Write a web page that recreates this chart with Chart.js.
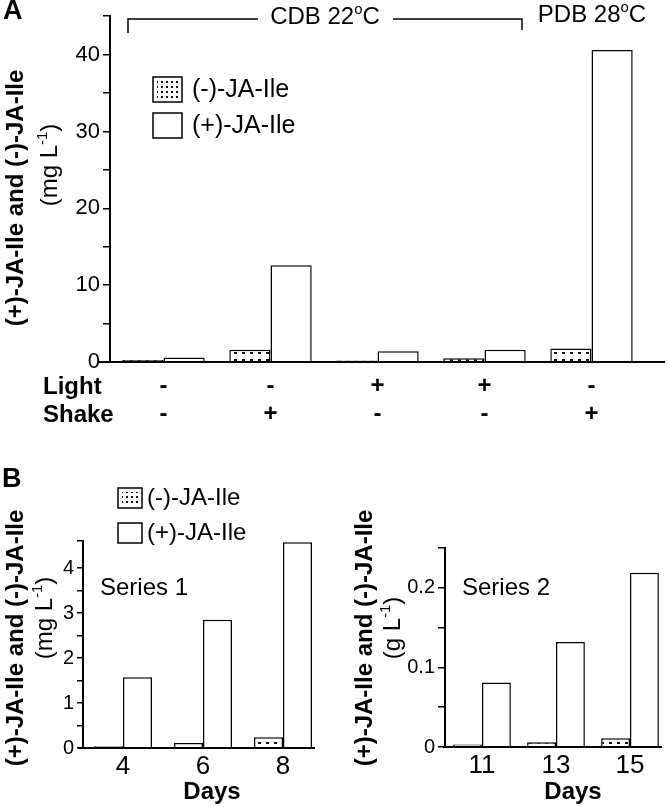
<!DOCTYPE html>
<html>
<head>
<meta charset="utf-8">
<script src="https://cdn.jsdelivr.net/npm/chart.js@4.4.0/dist/chart.umd.min.js"></script>
<style>
  body { margin: 0; background: #fff; width: 667px; height: 807px; position: relative; overflow: hidden; }
  canvas { position: absolute; }
</style>
</head>
<body>
<canvas id="chartA" width="667" height="440" style="left:0;top:0"></canvas>
<canvas id="chartB1" width="335" height="347" style="left:0;top:460px"></canvas>
<canvas id="chartB2" width="332" height="347" style="left:335px;top:460px"></canvas>
<script>
const FONT = '"Liberation Sans", Arial, Helvetica, sans-serif';

// Panel A: culture conditions
const lightRow = ["-", "-", "+", "+", "-"];
const shakeRow = ["-", "+", "-", "-", "+"];
const minusA = [0.25, 1.6, 0.2, 0.5, 1.75];
const plusA = [0.6, 12.6, 1.4, 1.6, 40.6];

// Panel B: time course
const daysS1 = ["4", "6", "8"];
const minusS1 = [0.04, 0.11, 0.24];
const plusS1 = [1.57, 2.85, 4.57];

const daysS2 = ["11", "13", "15"];
const minusS2 = [0.003, 0.006, 0.011];
const plusS2 = [0.081, 0.132, 0.219];

// dotted fill
function dots(tw, th, dw, dh, ox, oy) {
  const c = document.createElement("canvas");
  c.width = tw; c.height = th;
  const g = c.getContext("2d");
  g.fillStyle = "#fff"; g.fillRect(0, 0, tw, th);
  g.fillStyle = "#111"; g.fillRect(ox, oy, dw, dh);
  return g.createPattern(c, "repeat");
}
const barDots = dots(8, 7, 3, 2, 2, 2);
const keyDots = dots(5, 5, 2, 2, 1, 1);

// text helpers
function rich(ctx, parts, x, y, size, align, bold) {
  const w = parts.map(p => {
    ctx.font = (bold ? "bold " : "") + (p[1] ? size * 0.62 : size) + "px " + FONT;
    return ctx.measureText(p[0]).width;
  });
  const total = w.reduce((a, b) => a + b, 0);
  let cx = align === "center" ? x - total / 2 : align === "right" ? x - total : x;
  ctx.fillStyle = "#000";
  ctx.textAlign = "left";
  ctx.textBaseline = "middle";
  parts.forEach((p, i) => {
    ctx.font = (bold ? "bold " : "") + (p[1] ? size * 0.62 : size) + "px " + FONT;
    ctx.fillText(p[0], cx, p[1] ? y - size * 0.28 : y);
    cx += w[i];
  });
}
function txt(ctx, s, x, y, size, align, bold) {
  rich(ctx, [[s]], x, y, size, align || "left", bold);
}
function rotated(ctx, x, y, fn) {
  ctx.save();
  ctx.translate(x, y);
  ctx.rotate(-Math.PI / 2);
  fn();
  ctx.restore();
}
function line(ctx, x1, y1, x2, y2) {
  ctx.beginPath(); ctx.moveTo(x1, y1); ctx.lineTo(x2, y2); ctx.stroke();
}
function key(ctx, x, y, w, h, dotted) {
  ctx.fillStyle = "#fff";
  ctx.fillRect(x, y, w, h);
  if (dotted) {
    ctx.fillStyle = keyDots;
    ctx.fillRect(x + 4, y + 4, w - 8, h - 8);
  }
  ctx.strokeStyle = "#000";
  ctx.lineWidth = 1.5;
  ctx.strokeRect(x, y, w, h);
}

// chart builder
function barChart(id, labels, minus, plus, o) {
  return new Chart(document.getElementById(id), {
    type: "bar",
    data: {
      labels: labels,
      datasets: [
        { label: "(-)-JA-Ile", data: minus, backgroundColor: barDots, borderColor: "#000",
          borderWidth: 1.5, categoryPercentage: o.cat, barPercentage: 1 },
        { label: "(+)-JA-Ile", data: plus, backgroundColor: "#fff", borderColor: "#000",
          borderWidth: 1.5, categoryPercentage: o.cat, barPercentage: 1 }
      ]
    },
    options: {
      responsive: false,
      animation: false,
      devicePixelRatio: 1,
      layout: { padding: { left: 0, right: o.padRight, top: o.top, bottom: 0 } },
      plugins: { legend: { display: false }, tooltip: { enabled: false } },
      scales: {
        x: {
          grid: { display: false, drawTicks: false },
          border: { display: false },
          ticks: { color: "#000", font: o.xFont, padding: o.xPad, maxRotation: 0, autoSkip: false },
          afterFit: s => { s.height = o.xHeight; }
        },
        y: {
          min: 0,
          max: o.max,
          border: { display: true, color: "#000", width: 2 },
          grid: { display: true, drawOnChartArea: false, drawTicks: true, tickLength: o.tick, color: "#000", lineWidth: 1.5 },
          ticks: { stepSize: o.step, color: "#000", font: { family: FONT, size: o.ySize }, padding: 3, autoSkip: false, callback: o.fmt },
          afterFit: s => { s.width = o.yWidth; }
        }
      }
    },
    plugins: [o.plugin]
  });
}

// Panel A decorations
const panelA = {
  id: "panelA",
  afterDraw(chart) {
    const ctx = chart.ctx;
    const y0 = chart.scales.y.getPixelForValue(0);
    ctx.save();
    ctx.strokeStyle = "#000";
    ctx.lineWidth = 2;
    line(ctx, 97, y0, 665, y0);

    ctx.lineWidth = 1.5;
    ctx.beginPath(); ctx.moveTo(128, 33); ctx.lineTo(128, 19); ctx.lineTo(258, 19); ctx.stroke();
    ctx.beginPath(); ctx.moveTo(393, 19); ctx.lineTo(522, 19); ctx.lineTo(522, 30); ctx.stroke();
    rich(ctx, [["CDB 22"], ["o", 1], ["C"]], 325, 17, 24, "center");
    rich(ctx, [["PDB 28"], ["o", 1], ["C"]], 592, 15, 24, "center");

    key(ctx, 153, 77, 29, 25, true);
    key(ctx, 153, 113, 29, 25, false);
    txt(ctx, "(-)-JA-Ile", 192, 90, 25);
    txt(ctx, "(+)-JA-Ile", 192, 126, 25);

    txt(ctx, "Light", 43, 387, 24, "left", true);
    txt(ctx, "Shake", 43, 415, 24, "left", true);

    rotated(ctx, 16, 198, () => txt(ctx, "(+)-JA-Ile and (-)-JA-Ile", 0, 0, 24, "center", true));
    rotated(ctx, 50, 165, () => rich(ctx, [["(mg L"], ["-1", 1], [")"]], 0, 0, 24, "center"));

    txt(ctx, "A", 3, 12, 27, "left", true);
    ctx.restore();
  }
};

// Panel B decorations
function panelB(which) {
  return {
    id: "panelB" + which,
    afterDraw(chart) {
      const ctx = chart.ctx;
      const y0 = chart.scales.y.getPixelForValue(0);
      ctx.save();
      ctx.strokeStyle = "#000";
      ctx.lineWidth = 2;
      if (which === 1) {
        line(ctx, 78, y0, 315, y0);
        key(ctx, 118, 28, 24, 20, true);
        key(ctx, 118, 63, 24, 20, false);
        txt(ctx, "(-)-JA-Ile", 147, 38, 24);
        txt(ctx, "(+)-JA-Ile", 147, 73, 24);
        txt(ctx, "Series 1", 100, 128, 24);
        txt(ctx, "Days", 212, 332, 24, "center", true);
        rotated(ctx, 16, 178, () => txt(ctx, "(+)-JA-Ile and (-)-JA-Ile", 0, 0, 24, "center", true));
        rotated(ctx, 45, 158, () => rich(ctx, [["(mg L"], ["-1", 1], [")"]], 0, 0, 24, "center"));
        txt(ctx, "B", 2, 20, 27, "left", true);
      } else {
        line(ctx, 108, y0, 327, y0);
        txt(ctx, "Series 2", 127, 128, 24);
        txt(ctx, "Days", 238, 332, 24, "center", true);
        rotated(ctx, 30, 178, () => txt(ctx, "(+)-JA-Ile and (-)-JA-Ile", 0, 0, 24, "center", true));
        rotated(ctx, 58, 168, () => rich(ctx, [["(g L"], ["-1", 1], [")"]], 0, 0, 24, "center"));
      }
      ctx.restore();
    }
  };
}

barChart("chartA", lightRow.map((l, i) => [l, shakeRow[i]]), minusA, plusA, {
  cat: 0.77, padRight: 22, top: 3, xHeight: 78,
  xFont: { family: FONT, size: 24, weight: "bold", lineHeight: 1.17 }, xPad: 10,
  max: 45, step: 5, tick: 7, ySize: 22, yWidth: 110,
  fmt: v => (v % 10 === 0 ? String(v) : ""),
  plugin: panelA
});

barChart("chartB1", daysS1, minusS1, plusS1, {
  cat: 0.725, padRight: 12, top: 81, xHeight: 59,
  xFont: { family: FONT, size: 26 }, xPad: 3,
  max: 4.6, step: 0.5, tick: 6, ySize: 20, yWidth: 83,
  fmt: v => (Math.abs(v - Math.round(v)) < 1e-9 ? String(Math.round(v)) : ""),
  plugin: panelB(1)
});

barChart("chartB2", daysS2, minusS2, plusS2, {
  cat: 0.78, padRight: 0, top: 88, xHeight: 60,
  xFont: { family: FONT, size: 26 }, xPad: 3,
  max: 0.25, step: 0.05, tick: 7, ySize: 20, yWidth: 110,
  fmt: v => {
    const r = Math.round(v * 100);
    return r % 10 === 0 ? (r === 0 ? "0" : String(r / 100)) : "";
  },
  plugin: panelB(2)
});
</script>
</body>
</html>
